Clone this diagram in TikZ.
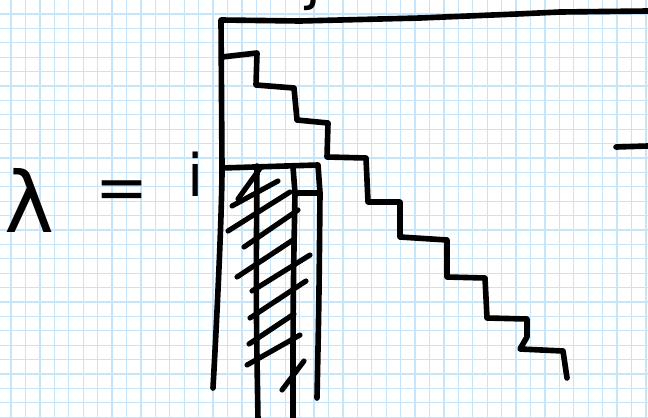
\documentclass[tikz,border=0pt]{standalone}
\usepackage{fontspec}
\newfontfamily\penfont{DejaVu Sans}
\usetikzlibrary{positioning}
\definecolor{gridblue}{RGB}{198,229,249}
\definecolor{inkblack}{RGB}{0,0,0}

\begin{document}
\begin{tikzpicture}[x=0.03cm, y=-0.03cm,
  gridline/.style={gridblue, line width=1.1pt},
  pen/.style={inkblack, line width=4.8pt, line cap=round, line join=round},
  hatch/.style={pen, line width=4.4pt},
  glyph/.style={inner sep=0pt, text=inkblack}]
  \useasboundingbox (0,0) rectangle (648,417);
  \clip (0,0) rectangle (648,417);
  \fill[white] (0,0) rectangle (648,417);
  % squared paper
  \foreach \k in {0,...,44} \draw[gridline] ({11+14.43*\k},0) -- ++(0,417);
  \foreach \k in {0,...,28} \draw[gridline] (0,{14+14.4*\k}) -- ++(648,0);
  % lambda = i
  \node[glyph, font=\penfont\fontsize{72}{72}\selectfont, anchor=base] (lam) at (29,232) {λ};
  \node[glyph, font=\penfont\fontsize{54}{54}\selectfont] (eq) at (122,195) {=};
  \node[glyph, font=\penfont\fontsize{50}{50}\selectfont, anchor=base] (rowi) at (196,196) {i};
  \node[glyph, font=\penfont\fontsize{50}{50}\selectfont, anchor=base] (colj) at (314,-2) {j};
  % frame
  \draw[pen] (213,388) .. controls (219,280) and (222,200) .. (222,168)
    -- (221,20) -- (300,21) -- (420,18) -- (517,14) -- (560,12) -- (648,11);
  \draw[pen] (616,147) -- (648,146);
  % staircase
  \draw[pen] (222,57) -- (257,53) -- (256,85) -- (294,88) -- (297,120) -- (328,123)
    -- (327,157) -- (366,158) -- (368,202) -- (400,202) -- (400,237) -- (447,240)
    -- (447,277) -- (485,278) -- (487,318) -- (527,319) -- (527,337) -- (520,349)
    -- (563,351) -- (567,378);
  % row i
  \draw[pen] (222,168) -- (318,165) -- (320,193) -- (298,193);
  \draw[pen] (320,193) .. controls (319,300) .. (317,398);
  \draw[pen] (293,167) -- (295,193) .. controls (293,300) .. (293,420);
  \draw[pen] (257,166) .. controls (256,300) .. (258,420);
  % shading
  \draw[hatch] (261,167) -- (238,199);
  \draw[hatch] (232,206) -- (278,181);
  \draw[hatch] (228,231) -- (290,192);
  \draw[hatch] (244,247) -- (298,210);
  \draw[hatch] (237,277) -- (293,240);
  \draw[hatch] (252,291) -- (310,255);
  \draw[hatch] (250,318) -- (306,281);
  \draw[hatch] (249,344) -- (294,314);
  \draw[hatch] (247,365) -- (300,335);
  \draw[hatch] (282,390) -- (304,361);
\end{tikzpicture}
\end{document}
